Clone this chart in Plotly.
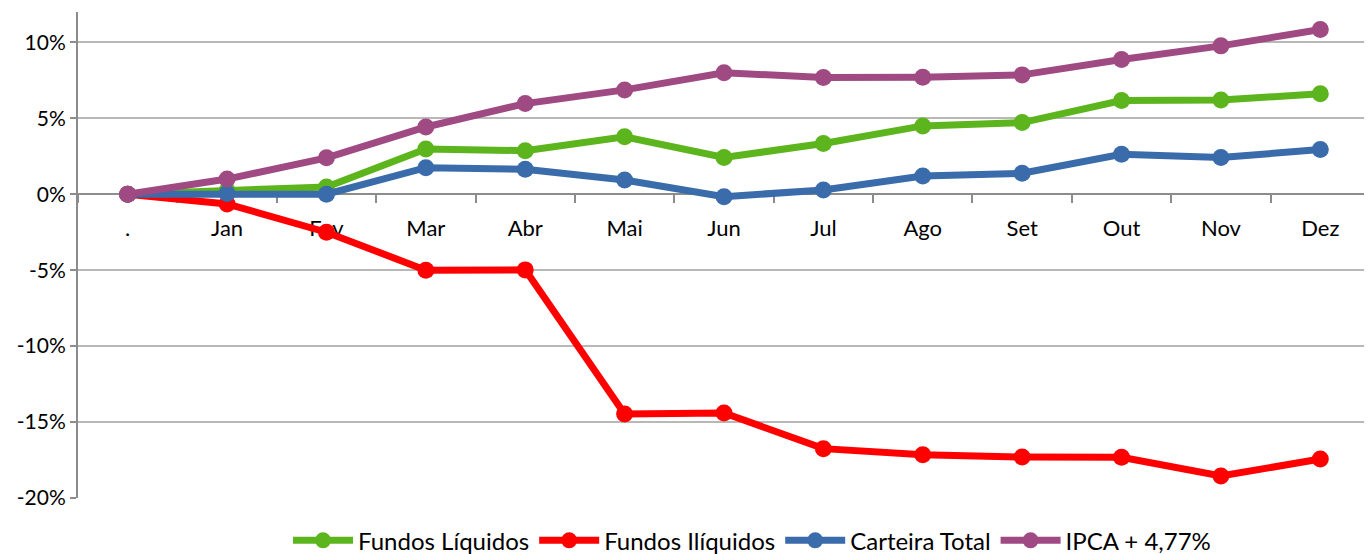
import plotly.graph_objects as go

categories = [".", "Jan", "Fev", "Mar", "Abr", "Mai", "Jun", "Jul", "Ago", "Set", "Out", "Nov", "Dez"]
fundos_liquidos = [0, 0.25, 0.48, 2.98, 2.87, 3.78, 2.42, 3.34, 4.50, 4.72, 6.17, 6.21, 6.61]
fundos_iliquidos = [0, -0.64, -2.50, -5.00, -4.98, -14.47, -14.40, -16.75, -17.15, -17.30, -17.32, -18.55, -17.43]
carteira_total = [0, 0.05, 0.00, 1.75, 1.65, 0.94, -0.16, 0.28, 1.20, 1.38, 2.63, 2.42, 2.94]
ipca = [0, 1.00, 2.40, 4.43, 5.97, 6.87, 8.00, 7.68, 7.70, 7.86, 8.87, 9.77, 10.85]

series = [
    ("Fundos Líquidos", fundos_liquidos, "#5DB51E"),
    ("Fundos Ilíquidos", fundos_iliquidos, "#FF0000"),
    ("Carteira Total", carteira_total, "#3A6BAA"),
    ("IPCA + 4,77%", ipca, "#A04A84"),
]

FONT = "Lato"
fig = go.Figure()
for name, vals, color in series:
    fig.add_trace(go.Scatter(
        x=categories, y=vals, name=name, mode="lines+markers",
        line=dict(color=color, width=7),
        marker=dict(color=color, size=17),
    ))

fig.update_layout(
    width=1364, height=546,
    margin=dict(l=70, r=2, t=4, b=56, autoexpand=False),
    paper_bgcolor="white", plot_bgcolor="white",
    font=dict(family=FONT, size=22, color="#000000"),
    showlegend=True,
    legend=dict(orientation="h", x=0.5217, xanchor="center", y=-0.088, yanchor="middle",
                font=dict(family=FONT, size=24), itemwidth=60, tracegroupgap=0),
    xaxis=dict(
        type="category", range=[-0.5, 12.5],
        anchor="free", position=0.625,
        showline=True, linecolor="#8c8c8c", linewidth=2,
        ticks="outside", tickson="boundaries", ticklen=8, tickcolor="#8c8c8c", tickwidth=2,
        showgrid=False, zeroline=False, layer="below traces",
        ticklabelstandoff=14,
        tickfont=dict(family=FONT, size=22),
    ),
    yaxis=dict(
        range=[-20, 12], tickvals=[-20, -15, -10, -5, 0, 5, 10],
        ticktext=["-20%", "-15%", "-10%", "-5%", "0%", "5%", "10%"],
        showline=True, linecolor="#8c8c8c", linewidth=2,
        ticks="outside", ticklen=6, tickcolor="#8c8c8c", tickwidth=2,
        showgrid=True, gridcolor="#b8b8b8", gridwidth=2, zeroline=False,
        tickfont=dict(family=FONT, size=21),
    ),
)

fig.write_html("out.html")
